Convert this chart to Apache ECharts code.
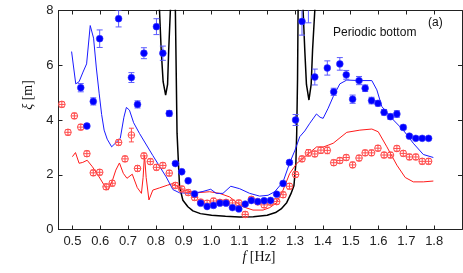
<!DOCTYPE html>
<html><head><meta charset="utf-8">
<script src="https://cdn.jsdelivr.net/npm/echarts@6/dist/echarts.min.js"></script>
<style>html,body{margin:0;padding:0;background:#fff}#c{width:463px;height:273px}</style>
</head><body><div id="c"></div>
<script>
// measured frequencies (Hz)
const freq = [0.462,0.484,0.507,0.530,0.552,0.575,0.598,0.621,0.643,0.666,0.689,0.712,0.734,0.757,0.780,0.802,0.825,0.848,0.870,0.893,0.916,0.939,0.961,0.984,1.007,1.030,1.052,1.075,1.098,1.121,1.143,1.166,1.189,1.212,1.234,1.257,1.280,1.302,1.325,1.348,1.371,1.393,1.416,1.439,1.461,1.484,1.507,1.530,1.552,1.575,1.598,1.620,1.643,1.666,1.689,1.711,1.734,1.757,1.780];
// blue filled points (xi, m) and error
const blueXi = [null,null,null,5.18,3.78,4.68,6.97,null,null,7.70,null,5.55,4.57,6.44,null,7.41,6.44,4.24,2.41,2.11,1.78,1.30,0.96,0.84,0.88,0.96,0.96,0.80,0.75,0.93,1.06,1.02,1.05,1.06,1.29,1.68,2.45,4.00,7.60,8.25,5.57,null,5.90,5.03,6.05,5.65,4.76,5.44,5.16,4.71,4.61,4.28,4.12,4.22,3.73,3.41,3.33,3.33,3.33];
const blueErr = [0,0,0,0.15,0.06,0.13,0.32,0,0,0.30,0,0.18,0.13,0.20,0,0.29,0.26,0.10,0.05,0.04,0.04,0.04,0.04,0.04,0.04,0.04,0.04,0.04,0.04,0.04,0.04,0.04,0.04,0.04,0.05,0.05,0.06,0.20,0.50,0.70,0.29,0,0.26,0.13,0.23,0.16,0.15,0.15,0.12,0.12,0.10,0.10,0.10,0.12,0.08,0.05,0.05,0.05,0.05];
// red open points
const redXi = [4.57,3.55,4.15,3.74,2.77,2.07,2.09,1.56,1.69,3.18,2.58,3.45,2.23,2.69,2.48,2.27,2.34,2.06,1.61,1.48,1.35,1.17,1.00,0.96,1.04,0.99,0.99,0.97,0.97,0.55,1.10,1.01,0.90,1.00,1.02,1.27,1.58,2.01,2.58,2.80,2.76,2.90,2.89,2.44,2.52,2.63,2.36,2.61,2.80,2.80,2.97,2.72,2.72,2.96,2.78,2.65,2.65,2.49,2.49];
const redErr = [0.1,0.1,0.1,0.1,0.1,0.1,0.1,0.1,0.1,0.1,0.1,0.25,0.1,0.1,0.1,0.1,0.1,0.1,0.1,0.1,0.1,0.1,0.1,0.1,0.1,0.1,0.1,0.1,0.1,0.1,0.1,0.1,0.1,0.1,0.1,0.1,0.1,0.1,0.1,0.12,0.1,0.12,0.12,0.1,0.1,0.1,0.1,0.1,0.1,0.1,0.1,0.1,0.1,0.1,0.1,0.1,0.1,0.1,0.1];
// blue model line
const blueLineF = [0.497,0.512,0.524,0.538,0.551,0.564,0.576,0.586,0.596,0.605,0.614,0.625,0.641,0.660,0.672,0.685,0.694,0.705,0.720,0.741,0.789,0.837,0.861,0.885,0.933,0.969,0.997,1.017,1.041,1.069,1.101,1.137,1.173,1.203,1.227,1.257,1.281,1.300,1.317,1.335,1.353,1.377,1.390,1.401,1.419,1.437,1.461,1.486,1.533,1.576,1.594,1.612,1.642,1.689,1.725,1.761,1.797];
const blueLineXi = [6.50,5.32,5.40,5.75,6.05,7.45,6.99,5.90,4.98,4.20,3.63,3.30,3.02,3.21,3.33,4.10,4.46,4.36,3.90,3.51,2.70,1.92,1.46,1.34,1.32,1.39,1.47,1.32,1.32,1.58,1.49,1.32,1.22,1.25,1.38,1.74,2.44,2.90,3.39,3.60,3.88,4.22,4.10,4.06,4.43,4.85,5.32,5.46,5.44,5.44,5.10,4.49,4.12,3.63,3.15,2.74,2.63];
// red model line
const redLineF = [0.500,0.511,0.524,0.537,0.553,0.572,0.596,0.614,0.628,0.644,0.656,0.669,0.683,0.696,0.715,0.733,0.748,0.754,0.759,0.765,0.775,0.789,0.813,0.842,0.861,0.897,0.945,0.993,1.029,1.065,1.089,1.113,1.149,1.185,1.209,1.233,1.257,1.281,1.306,1.342,1.378,1.396,1.419,1.437,1.486,1.533,1.576,1.599,1.630,1.666,1.696,1.725,1.761,1.797];
const redLineXi = [2.66,2.81,2.42,2.45,2.53,2.29,1.92,1.62,1.44,1.80,2.17,2.43,2.05,1.87,2.02,1.53,1.32,1.90,2.72,1.90,1.08,1.44,1.52,1.62,1.68,1.44,1.34,1.38,1.32,1.19,1.00,0.83,0.71,0.71,0.80,0.97,1.44,2.05,2.41,2.72,3.02,2.99,3.08,3.15,3.55,3.63,3.67,3.57,3.02,2.35,1.90,1.74,1.74,1.77];
// black theory curve (null = break at a pole)
const blackF = [0.809,0.813,0.819,0.826,0.835,0.842,0.846,0.852,0.856,0.861,0.866,0.870,0.876,0.885,0.897,0.915,0.933,0.960,1.000,1.050,1.100,1.150,1.200,1.230,1.250,1.270,1.285,1.296,1.303,1.306,1.309,1.311,1.314,1.320,1.325,1.329,1.335,1.341,1.350,1.358,1.363,1.371,1.375];
const blackXi = [9.5,8.0,6.56,5.40,4.91,5.30,6.56,8.0,9.5,null,9.5,8.0,3.52,1.56,1.07,0.83,0.68,0.58,0.52,0.48,0.46,0.47,0.52,0.62,0.75,0.98,1.30,1.60,2.40,3.52,5.5,8.0,9.5,null,9.5,8.0,6.56,5.30,4.73,5.30,6.56,8.0,9.5];
const xTicks = [0.5,0.6,0.7,0.8,0.9,1.0,1.1,1.2,1.3,1.4,1.5,1.6,1.7,1.8];
const yTicks = [0,2,4,6,8];

const zip = (a,b) => a.map((v,i)=>[v,b[i]]);
const bluePts = [], redPts = [];
freq.forEach((f,i)=>{
  if (blueXi[i] !== null) bluePts.push([f, blueXi[i], blueErr[i]]);
  if (redXi[i] !== null) redPts.push([f, redXi[i], redErr[i]]);
});

const axisColor = '#222';
const tickFont = {fontSize:13, color:'#222', fontFamily:'Liberation Sans, Arial, sans-serif'};

function errBar(api, color, capW) {
  const x = api.value(0), y = api.value(1), e = api.value(2);
  const t = api.coord([x, y+e]), b = api.coord([x, y-e]);
  return [
    {type:'line', shape:{x1:t[0],y1:t[1],x2:b[0],y2:b[1]}, style:{stroke:color, lineWidth:1}},
    {type:'line', shape:{x1:t[0]-capW,y1:t[1],x2:t[0]+capW,y2:t[1]}, style:{stroke:color, lineWidth:1}},
    {type:'line', shape:{x1:b[0]-capW,y1:b[1],x2:b[0]+capW,y2:b[1]}, style:{stroke:color, lineWidth:1}}
  ];
}

const chart = echarts.init(document.getElementById('c'), null, {renderer:'canvas'});
chart.setOption({
  animation:false,
  backgroundColor:'#fff',
  grid:{left:58.5, right:1, top:10.5, bottom:43.5, containLabel:false},
  xAxis:[
    {type:'value', min:0.45, max:1.9, position:'bottom',
     axisLine:{show:true, onZero:false, lineStyle:{color:axisColor, width:1}},
     axisTick:{show:true, inside:true, length:4, customValues:xTicks, lineStyle:{color:axisColor}},
     axisLabel:Object.assign({customValues:xTicks, margin:5, formatter:v=>v.toFixed(1)}, tickFont),
     splitLine:{show:false}},
    {type:'value', min:0.45, max:1.9, position:'top',
     axisLine:{show:true, onZero:false, lineStyle:{color:axisColor, width:1}},
     axisTick:{show:true, inside:true, length:4, customValues:xTicks, lineStyle:{color:axisColor}},
     axisLabel:{show:false}, splitLine:{show:false}}
  ],
  yAxis:[
    {type:'value', min:0, max:8, interval:2, position:'left',
     axisLine:{show:true, onZero:false, lineStyle:{color:axisColor, width:1}},
     axisTick:{show:true, inside:true, length:4, lineStyle:{color:axisColor}},
     axisLabel:Object.assign({margin:5}, tickFont), splitLine:{show:false}},
    {type:'value', min:0, max:8, interval:2, position:'right',
     axisLine:{show:true, onZero:false, lineStyle:{color:axisColor, width:1}},
     axisTick:{show:true, inside:true, length:4, lineStyle:{color:axisColor}},
     axisLabel:{show:false}, splitLine:{show:false}}
  ],
  series:[
    {type:'line', data:zip(blackF, blackXi), showSymbol:false, symbol:'none', clip:true, connectNulls:false,
     lineStyle:{color:'#000', width:1.5}, z:2},
    {type:'line', data:zip(redLineF, redLineXi), symbol:'none', clip:true,
     lineStyle:{color:'#ff1a1a', width:1}, z:3},
    {type:'line', data:zip(blueLineF, blueLineXi), symbol:'none', clip:true,
     lineStyle:{color:'#1a1aff', width:1}, z:3},
    {type:'custom', data:redPts, clip:true, z:4,
     renderItem:(params, api)=>{
       const p = api.coord([api.value(0), api.value(1)]);
       const col = '#ff4d4d';
       const ch = errBar(api, col, 2.5);
       ch.push({type:'circle', shape:{cx:p[0], cy:p[1], r:3.3}, style:{fill:'none', stroke:col, lineWidth:1}});
       ch.push({type:'line', shape:{x1:p[0]-3.3,y1:p[1],x2:p[0]+3.3,y2:p[1]}, style:{stroke:col, lineWidth:1}});
       return {type:'group', children:ch};
     }},
    {type:'custom', data:bluePts, clip:true, z:5,
     renderItem:(params, api)=>{
       const p = api.coord([api.value(0), api.value(1)]);
       const ch = errBar(api, '#5c5cff', 3);
       ch.push({type:'circle', shape:{cx:p[0], cy:p[1], r:3.4}, style:{fill:'#0000ff', stroke:'#3a3aff', lineWidth:0.6}});
       return {type:'group', children:ch};
     }}
  ],
  graphic:[
    {type:'text', x:333, y:33, style:{text:'Periodic bottom', font:'12px "Liberation Sans", Arial, sans-serif', fill:'#111', align:'left', verticalAlign:'middle', textAlign:'left', textVerticalAlign:'middle'}},
    {type:'text', x:428, y:22.5, style:{text:'(a)', font:'12px "Liberation Sans", Arial, sans-serif', fill:'#111', align:'left', verticalAlign:'middle', textAlign:'left', textVerticalAlign:'middle'}},
    {type:'text', x:259, y:257, style:{text:'{i|f} [Hz]', font:'14px "Liberation Serif", "DejaVu Serif", serif', fill:'#111', align:'center', verticalAlign:'middle', textAlign:'center', textVerticalAlign:'middle',
      rich:{i:{fontStyle:'italic', font:'italic 14px "Liberation Serif", serif', fill:'#111'}}}},
    {type:'text', x:28, y:95, rotation:Math.PI/2, style:{text:'{i|ξ} [m]', font:'14px "Liberation Serif", "DejaVu Serif", serif', fill:'#111', align:'center', verticalAlign:'middle', textAlign:'center', textVerticalAlign:'middle',
      rich:{i:{fontStyle:'italic', font:'italic 14px "Liberation Serif", serif', fill:'#111'}}}}
  ]
});
</script>
</body></html>
